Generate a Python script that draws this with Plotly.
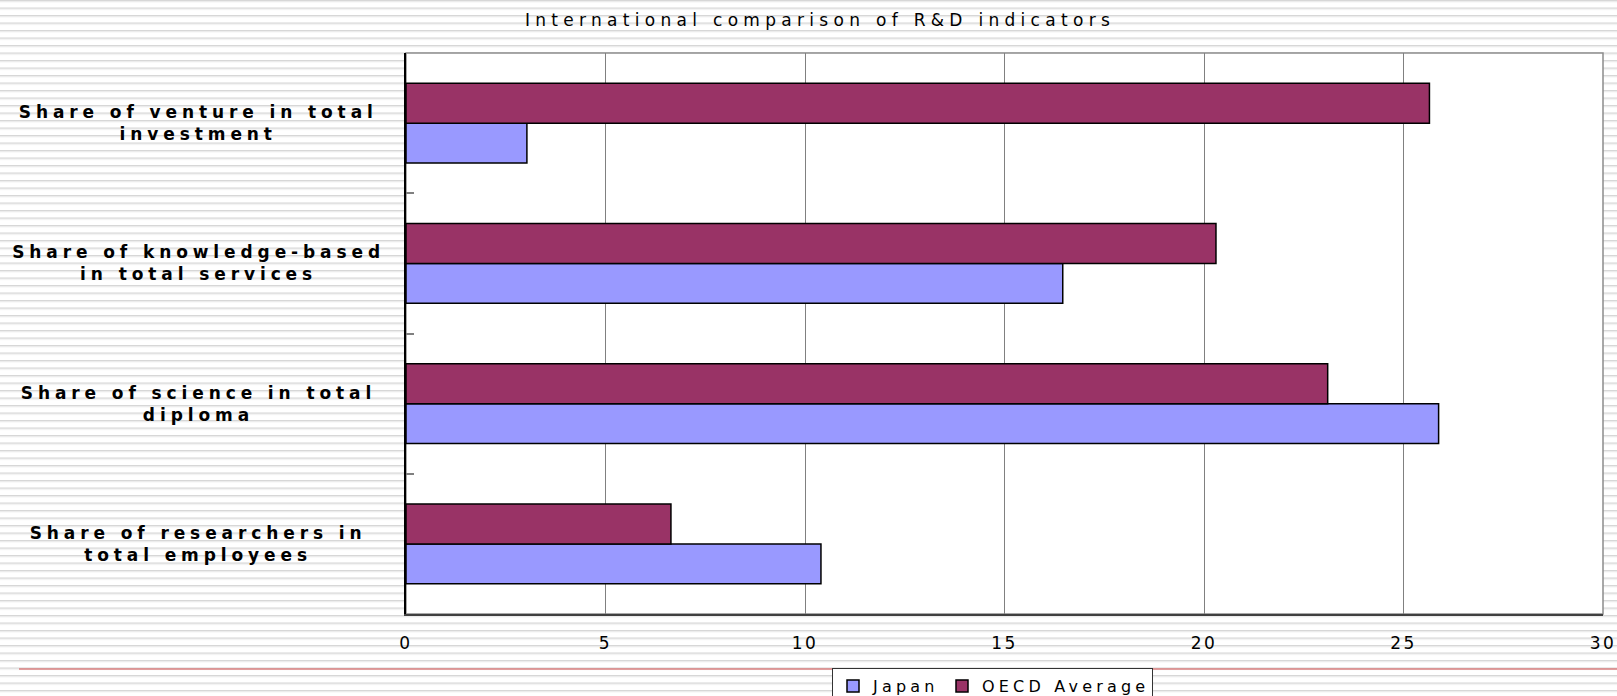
import base64
import plotly.graph_objects as go

# ---- data ----
categories = [
    "Share of venture in total<br>investment",
    "Share of knowledge-based<br>in total services",
    "Share of science in total<br>diploma",
    "Share of researchers in<br>total employees",
]
japan = [3.03, 16.46, 25.88, 10.4]
oecd = [25.65, 20.3, 23.1, 6.64]
series_names = ["Japan", "OECD Average"]
x_ticks = [0, 5, 10, 15, 20, 25, 30]
title_text = "International comparison of R&D indicators"

# ---- geometry ----
W, H = 1617, 696
ML, MR, MT, MB = 406, 14, 53, 82
PW = W - ML - MR
PH = H - MT - MB

fig = go.Figure()
fig.add_trace(go.Bar(
    y=categories, x=japan, orientation="h", name=series_names[0],
    marker=dict(color="#9999FF", line=dict(color="black", width=1.5)),
    legendwidth=64,
))
fig.add_trace(go.Bar(
    y=categories, x=oecd, orientation="h", name=series_names[1],
    marker=dict(color="#993366", line=dict(color="black", width=1.5)),
    legendwidth=165,
))

# striped page background
stripe_svg = (
    '<svg xmlns="http://www.w3.org/2000/svg" width="1617" height="696">'
    '<defs><pattern id="s" x="0" y="0" width="10" height="7.5" patternUnits="userSpaceOnUse">'
    '<rect width="10" height="1" fill="#d6d6d6"/>'
    '<rect y="1" width="10" height="1.2" fill="#eaeaea"/></pattern></defs>'
    '<rect width="1617" height="696" fill="white"/>'
    '<rect width="1617" height="696" fill="url(#s)"/></svg>'
)
src = "data:image/svg+xml;base64," + base64.b64encode(stripe_svg.encode()).decode()
fig.add_layout_image(
    source=src, xref="paper", yref="paper",
    x=-ML / PW, y=1 + MT / PH, sizex=W / PW, sizey=H / PH,
    xanchor="left", yanchor="top", sizing="stretch", layer="below",
)

# white plot area with grey frame
fig.add_shape(type="rect", xref="paper", yref="paper", x0=0, x1=1, y0=0, y1=1,
              fillcolor="white", line=dict(color="#8c8c8c", width=1.5), layer="below")

# red separator line
fig.add_shape(type="line", xref="paper", yref="paper",
              x0=(19 - ML) / PW, x1=(W - ML) / PW + 0.01,
              y0=(H - MB - 669) / PH, y1=(H - MB - 669) / PH,
              line=dict(color="#d04848", width=1.2))

# category labels (centred, multi-line)
for cat in categories:
    fig.add_annotation(
        x=(198 - ML) / PW, xref="paper", y=cat, yref="y",
        text=cat, showarrow=False, align="center",
        xanchor="center", yanchor="middle",
        font=dict(family="DejaVu Sans", size=17, color="black", weight="bold"),
    )

fig.update_layout(
    width=W, height=H,
    margin=dict(l=ML, r=MR, t=MT, b=MB, autoexpand=False),
    paper_bgcolor="white", plot_bgcolor="white",
    barmode="group", bargap=0.43, bargroupgap=0,
    title=dict(text=title_text, x=820 / W, xanchor="center", y=1 - 20 / H, yanchor="middle",
               font=dict(family="DejaVu Sans", size=17, color="black")),
    xaxis=dict(range=[0, 30], tickvals=x_ticks, ticktext=[str(v) for v in x_ticks],
               showgrid=True, gridcolor="#808080", gridwidth=1,
               showline=True, linecolor="#404040", linewidth=2,
               ticks="", ticklabelstandoff=13, zeroline=False,
               tickfont=dict(family="DejaVu Sans", size=17, color="black")),
    yaxis=dict(categoryorder="array", categoryarray=categories[::-1],
               showticklabels=False, ticks="inside", tickson="boundaries",
               ticklen=8, tickcolor="#808080", tickwidth=1.5,
               showline=True, linecolor="black", linewidth=2,
               showgrid=False, zeroline=False),
    legend=dict(orientation="h", xref="container", yref="container",
                x=832 / W, xanchor="left", y=1 - 668 / H, yanchor="top",
                bgcolor="white", bordercolor="#333333", borderwidth=1,
                traceorder="normal",
                font=dict(family="DejaVu Sans", size=16, color="black")),
    showlegend=True,
)

post = """
var s = document.createElement('style');
s.textContent = 'html,body{margin:0;padding:0} .gtitle{letter-spacing:5.3px} ' +
  '.annotation-text{letter-spacing:4.9px} ' +
  '.xtick text{letter-spacing:2.5px} .legendtext{letter-spacing:4.2px}';
document.head.appendChild(s);
"""

fig.write_html("out.html", post_script=post, config={"displayModeBar": False})
